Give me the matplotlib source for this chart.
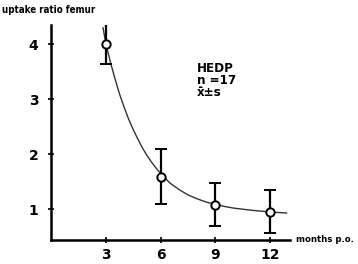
import matplotlib
matplotlib.use("Agg")
import matplotlib.pyplot as plt

## data
months = [3, 6, 9, 12]
uptake = [4.0, 1.58, 1.07, 0.94]
err_lo = [0.36, 0.48, 0.38, 0.38]
err_hi = [0.42, 0.52, 0.40, 0.41]

# fitted curve
curve_t = [2.85, 3.0, 3.25, 3.5, 3.75, 4.0, 4.25, 4.5, 4.75, 5.0, 5.25, 5.5, 5.75, 6.0, 6.5,
           7.0, 7.5, 8.0, 8.5, 9.0, 9.5, 10.0, 11.0, 12.0, 12.9]
curve_y = [4.3, 4.02, 3.68, 3.38, 3.1, 2.86, 2.64, 2.45, 2.28, 2.12, 1.98, 1.86, 1.75, 1.65, 1.48,
           1.36, 1.26, 1.19, 1.13, 1.09, 1.05, 1.02, 0.98, 0.95, 0.93]

xticks = [3, 6, 9, 12]
yticks = [1, 2, 3, 4]

plt.rcParams['font.family'] = ['DejaVu Sans']
fig = plt.figure(figsize=(3.58, 2.64), dpi=100)
ax = fig.add_axes([0.1425, 0.091, 0.668, 0.814])

ax.plot(curve_t, curve_y, color='#333333', lw=1.0, zorder=2)
ax.errorbar(months, uptake, yerr=[err_lo, err_hi], fmt='o', color='black',
            mfc='white', mec='black', ms=6, mew=1.4, elinewidth=1.6,
            capsize=4, capthick=1.6, zorder=3)

ax.set_xlim(0, 13.1)
ax.set_ylim(0.44, 4.35)
ax.set_xticks(xticks)
ax.set_yticks(yticks)
ax.set_xticklabels([str(t) for t in xticks], fontsize=10, fontweight='bold')
ax.set_yticklabels([str(t) for t in yticks], fontsize=10, fontweight='bold')
ax.tick_params(axis='y', direction='inout', length=4, width=1.2, pad=7)
ax.tick_params(axis='x', direction='inout', length=4, width=1.2, pad=4)
for s in ['top', 'right']:
    ax.spines[s].set_visible(False)
for s in ['left', 'bottom']:
    ax.spines[s].set_linewidth(1.8)

fig.text(0.006, 0.962, 'uptake ratio femur', fontsize=7, fontweight='bold',
         fontstretch='condensed', va='center', ha='left')
fig.text(0.828, 0.093, 'months p.o.', fontsize=6.8, fontweight='bold',
         fontstretch='condensed', va='center', ha='left')
ax.text(8.0, 3.35, 'HEDP\nn =17\nx\u0304\u00b1s', fontsize=9.5, fontweight='bold',
        fontstretch='condensed', va='center', ha='left', linespacing=0.9)

fig.savefig('out.png', dpi=100)
